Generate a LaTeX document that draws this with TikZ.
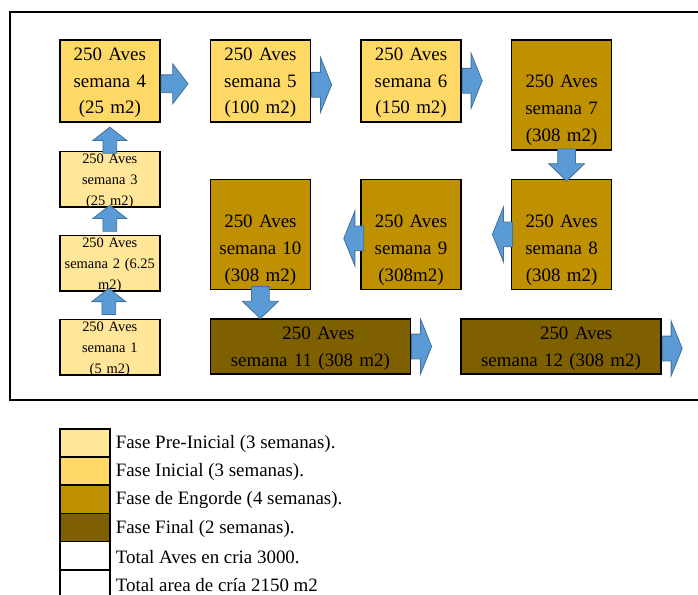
\documentclass[tikz,border=0pt]{standalone}
\usepackage{fontspec}
\setmainfont{Liberation Serif}
\usetikzlibrary{positioning, shapes.arrows}

\definecolor{cpre}{HTML}{FFE699}
\definecolor{cini}{HTML}{FFD966}
\definecolor{ceng}{HTML}{BF9000}
\definecolor{cfin}{HTML}{7F6000}
\definecolor{azul}{HTML}{5B9BD5}
\definecolor{azulborde}{HTML}{41719C}

\tikzset{
  caja/.style={draw=black, line width=1.6bp, inner sep=0pt, minimum width=100bp},
  cajapre/.style={caja, fill=cpre, minimum height=55.5bp},
  cajaini/.style={caja, fill=cini, minimum height=82bp},
  cajaeng/.style={caja, fill=ceng, minimum height=110bp},
  cajafin/.style={caja, fill=cfin, minimum width=200bp, minimum height=55bp},
  texto/.style={align=center, inner sep=0pt, text width=100bp, font=\fontsize{19}{27}\selectfont},
  textopre/.style={texto, font=\fontsize{14.5}{21}\selectfont},
  flecha/.style={single arrow, draw=azulborde, fill=azul, line width=0.8bp,
    inner xsep=0pt, minimum width=0pt, single arrow head indent=0pt},
  flechaa/.style={flecha, minimum height=27bp, inner ysep=8.5bp,
    single arrow head extend=11bp, single arrow tip angle=105},
  flechah/.style={flecha, minimum height=20bp, inner ysep=12bp,
    single arrow head extend=15bp, single arrow tip angle=136},
  flechav/.style={flecha, minimum height=32bp, inner ysep=8.5bp,
    single arrow head extend=9bp, single arrow tip angle=92},
  flechap/.style={flecha, minimum height=26bp, inner ysep=6.5bp,
    single arrow head extend=10bp, single arrow tip angle=104},
  muestra/.style={draw=black, line width=1.6bp, inner sep=0pt, minimum width=50bp, minimum height=28.2bp},
  leyenda/.style={inner sep=0pt, font=\fontsize{19}{23}\selectfont}
}

\begin{document}
\begin{tikzpicture}[x=1bp, y=-1bp]
  \useasboundingbox (0,0) rectangle (698,595);
  \draw[line width=1.6bp] (10,12) rectangle (712,400);

  % cajas por semana
  \node[cajaini, anchor=north west] (w4) at (59,39) {};
  \node[cajaini, right=49bp of w4] (w5) {};
  \node[cajaini, right=49bp of w5] (w6) {};
  \node[cajaeng, below right=0bp and 49bp of w6.north east] (w7) {};
  \node[cajaeng, below=28bp of w7] (w8) {};
  \node[cajaeng, left=49bp of w8] (w9) {};
  \node[cajaeng, left=49bp of w9] (w10) {};
  \node[cajafin, below right=28bp and 0bp of w10.south west] (w11) {};
  \node[cajafin, right=49bp of w11] (w12) {};
  \node[cajapre, below=28bp of w4] (w3) {};
  \node[cajapre, below=27bp of w3] (w2) {};
  \node[cajapre, below=27bp of w2] (w1) {};

  % textos
  \node[textopre, anchor=north] (t1) at ([yshift=-3bp]w1.north) {250 Aves\\semana 1\\(5 m2)};
  \node[textopre, anchor=north] (t2) at ([yshift=-3bp]w2.north) {250 Aves\\semana 2 (6.25\\m2)};
  \node[textopre, anchor=north] (t3) at ([yshift=-3bp]w3.north) {250 Aves\\semana 3\\(25 m2)};
  \node[texto] (t4) at ([yshift=-2bp]w4.center) {250 Aves\\semana 4\\(25 m2)};
  \node[texto] (t5) at ([yshift=-2bp]w5.center) {250 Aves\\semana 5\\(100 m2)};
  \node[texto] (t6) at ([yshift=-2bp]w6.center) {250 Aves\\semana 6\\(150 m2)};
  \node[texto] (t7) at ([yshift=40bp]w7.south) {250 Aves\\semana 7\\(308 m2)};
  \node[texto] (t8) at ([yshift=40bp]w8.south) {250 Aves\\semana 8\\(308 m2)};
  \node[texto] (t9) at ([yshift=40bp]w9.south) {250 Aves\\semana 9\\(308m2)};
  \node[texto] (t10) at ([yshift=40bp]w10.south) {250 Aves\\semana 10\\(308 m2)};
  \node[texto, text width=200bp] (t11) at ([yshift=-2bp]w11.center) {\hspace*{0.85em}250 Aves\\semana 11 (308 m2)};
  \node[texto, text width=200bp] (t12) at ([yshift=-2bp]w12.center) {\hspace*{1.6em}250 Aves\\semana 12 (308 m2)};

  % flechas
  \node[flechap, rotate=90, anchor=west] (f12) at ([xshift=-1bp, yshift=4bp]w1.north) {};
  \node[flechap, rotate=90, anchor=west] (f23) at ([yshift=3bp]w2.north) {};
  \node[flechap, rotate=90, anchor=west] (f34) at ([yshift=-3bp]w3.north) {};
  \node[flechaa, anchor=west] (f45) at ([yshift=-3bp]w4.east) {};
  \node[flechah, anchor=west] (f56) at ([yshift=-4bp]w5.east) {};
  \node[flechah, anchor=west] (f67) at (w6.east) {};
  \node[flechav, rotate=-90, anchor=west] (f78) at ([xshift=5bp, yshift=2bp]w7.south) {};
  \node[flechah, rotate=180, anchor=west] (f89) at ([xshift=2bp]w8.west) {};
  \node[flechah, rotate=180, anchor=west] (f910) at ([xshift=4bp, yshift=-4bp]w9.west) {};
  \node[flechav, rotate=-90, anchor=west] (f1011) at ([yshift=4bp]w10.south) {};
  \node[flechah, anchor=west] (f1112) at (w11.east) {};
  \node[flechah, anchor=west] (f12fin) at ([yshift=-2bp]w12.east) {};

  % leyenda
  \foreach \col/\txt [count=\i from 0] in {cpre/Fase Pre-Inicial (3 semanas).,
      cini/Fase Inicial (3 semanas).,
      ceng/Fase de Engorde (4 semanas).,
      cfin/Fase Final (2 semanas).,
      white/Total Aves en cria 3000.,
      white/Total area de cría 2150 m2}
  {
    \node[muestra, fill=\col, anchor=north west] (m\i) at (59, {428+28.2*\i}) {};
    \node[leyenda, anchor=west] (l\i) at ([xshift=5bp, yshift=-1bp]m\i.east) {\txt};
  }
\end{tikzpicture}
\end{document}
